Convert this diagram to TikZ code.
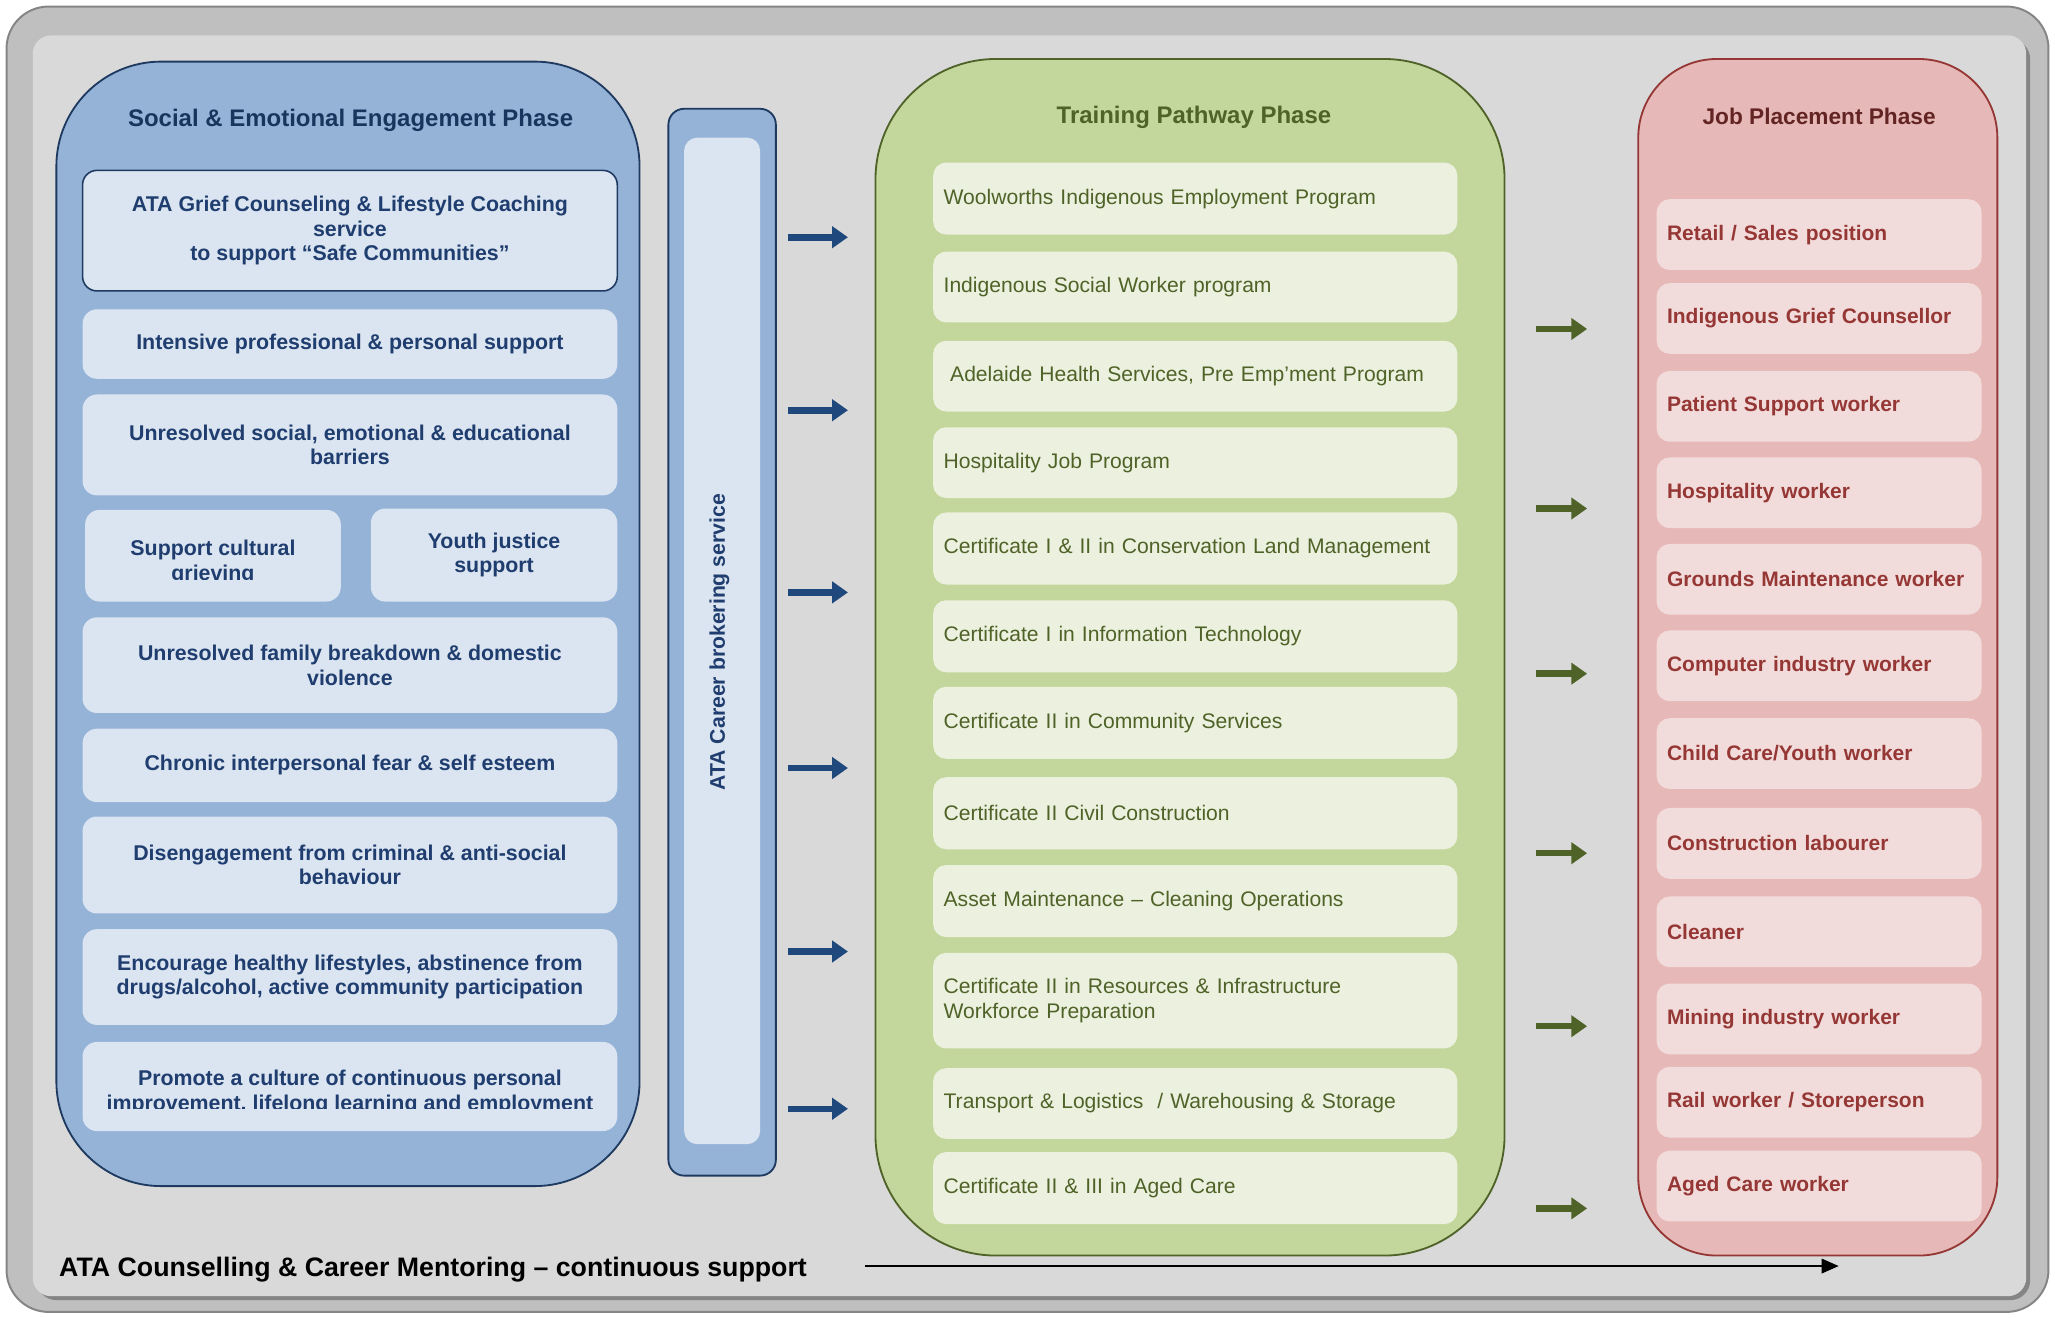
\documentclass[tikz,border=0pt]{standalone}
\usepackage{fontspec}
\setmainfont{Liberation Sans}
\usetikzlibrary{arrows.meta}

\definecolor{framegray}{HTML}{BFBFBF}
\definecolor{frameedge}{HTML}{858585}
\definecolor{panelgray}{HTML}{D9D9D9}
\definecolor{bluefill}{HTML}{95B3D7}
\definecolor{blueedge}{HTML}{1F3A60}
\definecolor{bluelight}{HTML}{DBE5F1}
\definecolor{bluetext}{HTML}{1F3D6E}
\definecolor{bluetitle}{HTML}{17365D}
\definecolor{bluearrow}{HTML}{1F497D}
\definecolor{greenfill}{HTML}{C3D69B}
\definecolor{greenedge}{HTML}{4F6228}
\definecolor{greenlight}{HTML}{EBF1DE}
\definecolor{redfill}{HTML}{E6B9B8}
\definecolor{rededge}{HTML}{953735}
\definecolor{redlight}{HTML}{F2DCDB}
\definecolor{redtitle}{HTML}{632523}

\tikzset{
  panel/.style={line width=1.4pt, inner sep=0pt},
  ptitle/.style={font=\fontsize{18.3}{21}\selectfont\bfseries, inner sep=0pt},
  litem/.style={fill=bluelight, rounded corners=11pt, minimum width=408pt,
    align=center, inner sep=0pt, text=bluetext,
    font=\fontsize{16.3}{18.8}\selectfont\bfseries},
  ltext/.style={align=center, inner sep=0pt, text=bluetext,
    font=\fontsize{16.3}{19}\selectfont\bfseries},
  gitem/.style={fill=greenlight, rounded corners=10pt, text width=384pt,
    inner xsep=8pt, inner ysep=0pt, align=left, text=greenedge,
    font=\fontsize{16.1}{18.5}\selectfont},
  ritem/.style={fill=redlight, rounded corners=10pt, text width=232pt,
    inner xsep=8pt, inner ysep=0pt, align=left, text=rededge,
    minimum height=54pt, font=\fontsize{16}{18.5}\selectfont\bfseries},
  blockarrow/.style={line width=5pt, -{Triangle[length=12pt,width=16pt]}},
}

\begin{document}
\begin{tikzpicture}[x=1pt,y=-1pt]
\useasboundingbox (0,0) rectangle (1568,1005);

% frame and background panel
\draw[fill=framegray, draw=frameedge, line width=1.5pt, rounded corners=32pt]
  (5,5) rectangle (1563,1001);
\fill[frameedge, rounded corners=15pt] (28,30) rectangle (1549,992);
\fill[panelgray, rounded corners=14pt] (25,27) rectangle (1546,989);

% ---------- social & emotional engagement phase ----------
\node[panel, draw=blueedge, fill=bluefill, rounded corners=80pt,
  minimum width=445pt, minimum height=858pt] (social) at (265.5,476) {};
\node[ptitle, text=bluetitle] (socialtitle) at (267.5,91.5) {Social \& Emotional Engagement Phase};

\node[litem, draw=blueedge, line width=1.2pt, minimum height=92pt] (l1) at (267,176)
  {ATA Grief Counseling \& Lifestyle Coaching\\service\\to support “Safe Communities”};
\node[litem, minimum height=53pt] (l2) at (267,262.5) {Intensive professional \& personal support};
\node[litem, minimum height=77pt] (l3) at (267,339.5) {Unresolved social, emotional \& educational\\barriers};
\node[litem, minimum width=195pt, minimum height=70pt] (l4a) at (162.5,424) {};
\begin{scope}
  \clip (60,380) rectangle (265,442);
  \node[ltext, yshift=-5pt] (l4atext) at (l4a.center) {Support cultural\\grieving};
\end{scope}
\node[litem, minimum width=188pt, minimum height=71pt] (l4b) at (377,423.5) {Youth justice\\support};
\node[litem, minimum height=73pt] (l5) at (267,507.5) {Unresolved family breakdown \& domestic\\violence};
\node[litem, minimum height=56pt] (l6) at (267,584) {Chronic interpersonal fear \& self esteem};
\node[litem, minimum height=74pt] (l7) at (267,660) {Disengagement from criminal \& anti-social\\behaviour};
\node[litem, minimum height=73pt] (l8) at (267,745.5) {Encourage healthy lifestyles, abstinence from\\drugs/alcohol, active community participation};
\node[litem, minimum height=68pt] (l9) at (267,829) {};
\begin{scope}
  \clip (60,790) rectangle (475,845.5);
  \node[ltext, yshift=-4.5pt] (l9text) at (l9.center) {Promote a culture of continuous personal\\improvement, lifelong learning and employment};
\end{scope}

% ---------- career brokering bar ----------
\node[panel, draw=blueedge, fill=bluefill, rounded corners=12pt,
  minimum width=82pt, minimum height=814pt] (broker) at (551,490) {};
\node[fill=bluelight, rounded corners=10pt, inner sep=0pt,
  minimum width=58pt, minimum height=768pt] (brokerin) at (551,489) {};
\node[rotate=90, inner sep=0pt, text=bluetext,
  font=\fontsize{16.2}{19}\selectfont\bfseries] (brokertext) at (549,490) {ATA Career brokering service};

% blue arrows towards the training phase
\foreach \i/\y in {1/181,2/313,3/452,4/586,5/726,6/846}{
  \coordinate (bs\i) at (601,\y);
  \coordinate (be\i) at (647,\y);
  \draw[blockarrow, bluearrow] (bs\i) -- (be\i);
}

% ---------- training pathway phase ----------
\node[panel, draw=greenedge, fill=greenfill, rounded corners=92pt,
  minimum width=480pt, minimum height=913pt] (training) at (908,501.5) {};
\node[ptitle, text=greenedge] (trainingtitle) at (911,89.5) {Training Pathway Phase};

\node[gitem, minimum height=55pt] (g1) at (912,151.5) {Woolworths Indigenous Employment Program};
\node[gitem, minimum height=54pt] (g2) at (912,219) {Indigenous Social Worker program};
\node[gitem, minimum height=54pt] (g3) at (912,287) {\hspace*{5pt}Adelaide Health Services, Pre Emp’ment Program};
\node[gitem, minimum height=54pt] (g4) at (912,353) {Hospitality Job Program};
\node[gitem, minimum height=55pt] (g5) at (912,418.5) {Certificate I \& II in Conservation Land Management};
\node[gitem, minimum height=55pt] (g6) at (912,485.5) {Certificate I in Information Technology};
\node[gitem, minimum height=55pt] (g7) at (912,551.5) {Certificate II in Community Services};
\node[gitem, minimum height=55pt] (g8) at (912,620.5) {Certificate II Civil Construction};
\node[gitem, minimum height=55pt] (g9) at (912,687.5) {Asset Maintenance – Cleaning Operations};
\node[gitem, minimum height=73pt] (g10) at (912,763.5) {Certificate II in Resources \& Infrastructure\\Workforce Preparation};
\node[gitem, minimum height=54pt] (g11) at (912,842) {Transport \& Logistics\ \ / Warehousing \& Storage};
\node[gitem, minimum height=55pt] (g12) at (912,906.5) {Certificate II \& III in Aged Care};

% green arrows towards the job placement phase
\foreach \i/\y in {1/251,2/388,3/514,4/651,5/783,6/922}{
  \coordinate (gs\i) at (1172,\y);
  \coordinate (ge\i) at (1211,\y);
  \draw[blockarrow, greenedge] (gs\i) -- (ge\i);
}

% ---------- job placement phase ----------
\node[panel, draw=rededge, fill=redfill, rounded corners=60pt,
  minimum width=274pt, minimum height=913pt] (job) at (1387,501.5) {};
\node[ptitle, font=\fontsize{17.3}{20}\selectfont\bfseries, text=redtitle] (jobtitle) at (1388,89) {Job Placement Phase};

\node[ritem] (r1) at (1388,179) {Retail / Sales position};
\node[ritem] (r2) at (1388,243) {Indigenous Grief Counsellor};
\node[ritem] (r3) at (1388,310) {Patient Support worker};
\node[ritem] (r4) at (1388,376) {Hospitality worker};
\node[ritem] (r5) at (1388,442) {Grounds Maintenance worker};
\node[ritem] (r6) at (1388,508) {Computer industry worker};
\node[ritem] (r7) at (1388,575) {Child Care/Youth worker};
\node[ritem] (r8) at (1388,643.5) {Construction labourer};
\node[ritem] (r9) at (1388,711) {Cleaner};
\node[ritem] (r10) at (1388,777.5) {Mining industry worker};
\node[ritem] (r11) at (1388,841) {Rail worker / Storeperson};
\node[ritem] (r12) at (1388,905) {Aged Care worker};

% ---------- continuous support ----------
\node[anchor=west, inner sep=0pt, font=\fontsize{20.4}{24}\selectfont\bfseries]
  (mentor) at (45,969) {ATA Counselling \& Career Mentoring – continuous support};
\coordinate (ms) at (660,966);
\coordinate (me) at (1403,966);
\draw[line width=1.5pt, -{Triangle[length=13pt,width=11pt]}] (ms) -- (me);

\end{tikzpicture}
\end{document}
